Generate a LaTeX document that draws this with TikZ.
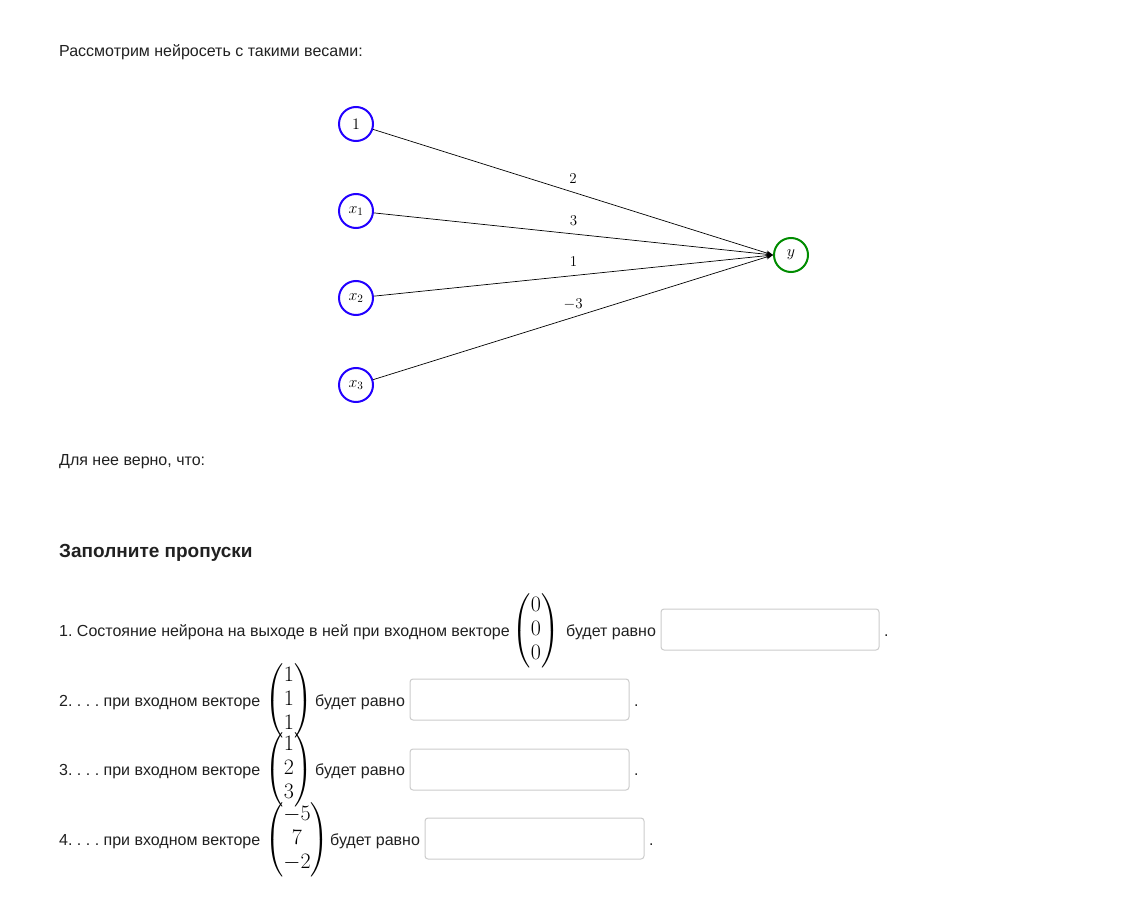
\RequirePackage{fix-cm}
\documentclass[tikz,border=0pt]{standalone}
\usepackage{amsmath}
\usepackage{fontspec}
\setmainfont{Liberation Sans}
\usetikzlibrary{arrows.meta}
\definecolor{txt}{RGB}{33,33,33}
\definecolor{nblue}{RGB}{34,0,255}
\definecolor{ngreen}{RGB}{0,140,0}
\definecolor{boxgray}{RGB}{204,204,204}
\tikzset{
  body/.style={anchor=base west, inner sep=0pt, text=txt, font=\fontsize{16}{19}\selectfont\frenchspacing},
  head/.style={anchor=base west, inner sep=0pt, text=txt, font=\fontsize{19}{23}\selectfont\bfseries},
  inp/.style={circle, draw=nblue, line width=2pt, minimum size=34pt, inner sep=0pt, font=\fontsize{16}{19}\selectfont},
  outp/.style={circle, draw=ngreen, line width=2pt, minimum size=34pt, inner sep=0pt, font=\fontsize{16}{19}\selectfont},
  edge/.style={line width=0.7pt, -{Stealth[length=7pt,width=5pt]}},
  wlabel/.style={midway, yshift=13.5pt, inner sep=0pt, font=\fontsize{15}{18}\selectfont},
  vec/.style={inner sep=0pt, font=\fontsize{22}{24}\selectfont},
  ansbox/.style={draw=boxgray, line width=1pt, rounded corners=3pt}
}
\begin{document}
\begin{tikzpicture}[x=1pt,y=-1pt]
\useasboundingbox[fill=white] (0,0) rectangle (1140,904);
\node[body] (title) at (59,57) {Рассмотрим нейросеть с такими весами:};
\node[inp] (b) at (356,124) {$1$};
\node[inp] (x1) at (356,211) {$x_1$};
\node[inp] (x2) at (356,298) {$x_2$};
\node[inp] (x3) at (356,385) {$x_3$};
\node[outp] (y) at (791,255) {$y$};
\draw[edge] (b) -- (y.west) node[wlabel] {$2$};
\draw[edge] (x1) -- (y.west) node[wlabel] {$3$};
\draw[edge] (x2) -- (y.west) node[wlabel] {$1$};
\draw[edge] (x3) -- (y.west) node[wlabel] {$-3$};
\node[body] (t2) at (59,465) {Для нее верно, что:};
\node[head] (h) at (59,557) {Заполните пропуски};
% line 1
\node[body] (l1) at (59,636) {1. Состояние нейрона на выходе в ней при входном векторе};
\node[vec] (v1) at (536,631) {$\begin{pmatrix}0\\0\\0\end{pmatrix}$};
\node[body] (r1) at (566,636) {будет равно};
\draw[ansbox] (661,609) rectangle (879,650);
\node[body] (d1) at (884,636) {.};
% line 2
\node[body] (l2) at (59,706) {2. . . . при входном векторе};
\node[vec] (v2) at (289,701) {$\begin{pmatrix}1\\1\\1\end{pmatrix}$};
\node[body] (r2) at (315,706) {будет равно};
\draw[ansbox] (410,679) rectangle (629,720);
\node[body] (d2) at (634,706) {.};
% line 3
\node[body] (l3) at (59,775) {3. . . . при входном векторе};
\node[vec] (v3) at (289,770) {$\begin{pmatrix}1\\2\\3\end{pmatrix}$};
\node[body] (r3) at (315,775) {будет равно};
\draw[ansbox] (410,749) rectangle (629,790);
\node[body] (d3) at (634,775) {.};
% line 4
\node[body] (l4) at (59,845) {4. . . . при входном векторе};
\node[vec] (v4) at (297,840) {$\begin{pmatrix}-5\\7\\-2\end{pmatrix}$};
\node[body] (r4) at (330,845) {будет равно};
\draw[ansbox] (425,818) rectangle (644,859);
\node[body] (d4) at (649,845) {.};
\end{tikzpicture}
\end{document}
